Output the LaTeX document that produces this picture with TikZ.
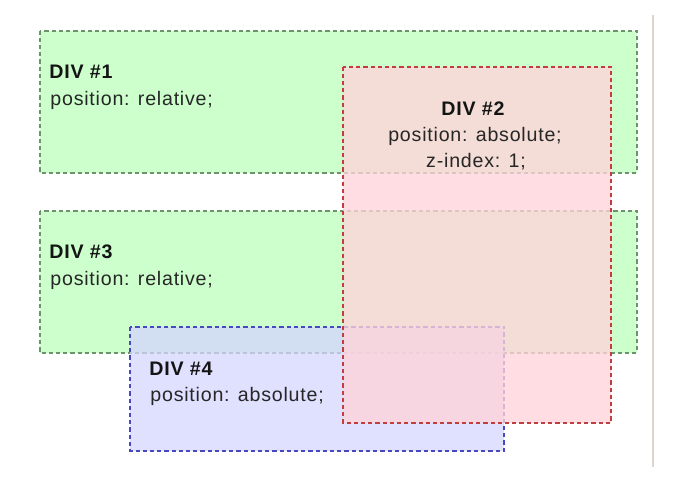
\documentclass[tikz,border=0pt]{standalone}
\usepackage{fontspec}
\setmainfont{Liberation Sans}
\newfontfamily\divfont[LetterSpace=4]{Liberation Sans}
\usepackage{tikz}
\usetikzlibrary{positioning}

\definecolor{divgreen}{RGB}{204,255,204}
\definecolor{divgreenline}{RGB}{108,148,108}
\definecolor{divpink}{RGB}{255,212,218}
\definecolor{divred}{RGB}{192,62,62}
\definecolor{divblue}{RGB}{213,213,255}
\definecolor{divblueline}{RGB}{72,72,192}
\definecolor{divrule}{RGB}{220,214,211}

\tikzset{
  divbox/.style={dash pattern=on 2.1pt off 1.5pt, line width=1pt},
  divhead/.style={font=\divfont\bfseries\fontsize{9.8}{11}\selectfont, text=black!92, inner sep=0pt},
  divline/.style={font=\divfont\fontsize{9.8}{11}\selectfont, text=black!85, inner sep=0pt},
}

\begin{document}
\begin{tikzpicture}[x=0.5pt, y=-0.5pt]
\useasboundingbox (0,0) rectangle (700,498);
% relative divs
\draw[divbox, divgreenline, fill=divgreen] (39.5,30.5) rectangle (636.5,172.5);
\draw[divbox, divgreenline, fill=divgreen] (39.5,210.5) rectangle (636.5,352.5);
% div 4 sits over div 3
\fill[divblue, opacity=0.75] (130,326.5) rectangle (504,450.5);
\draw[divbox, divblueline] (130,326.5) rectangle (504,450.5);

\node[divhead, anchor=base west] (head1) at (49,78) {DIV \#1};
\node[divline, anchor=base west] (pos1) at (50,105) {position: relative;};
\node[divhead, anchor=base west] (head3) at (49,258) {DIV \#3};
\node[divline, anchor=base west] (pos3) at (50,285) {position: relative;};
\node[divhead, anchor=base west] (head4) at (149,375) {DIV \#4};
\node[divline, anchor=base west] (pos4) at (150,401.5) {position: absolute;};

% div 2 with z-index on top
\fill[divpink, opacity=0.78] (342.5,66.5) rectangle (611,422.5);
\draw[divbox, divred] (342.5,66.5) rectangle (611,422.5);
\node[divhead, anchor=base] (head2) at (473,115) {DIV \#2};
\node[divline, anchor=base] (pos2) at (475,141.5) {position: absolute;};
\node[divline, anchor=base] (zidx2) at (476,167) {z-index: 1;};

\draw[divrule, line width=1pt] (652.5,15) -- (652.5,467);
\end{tikzpicture}
\end{document}
